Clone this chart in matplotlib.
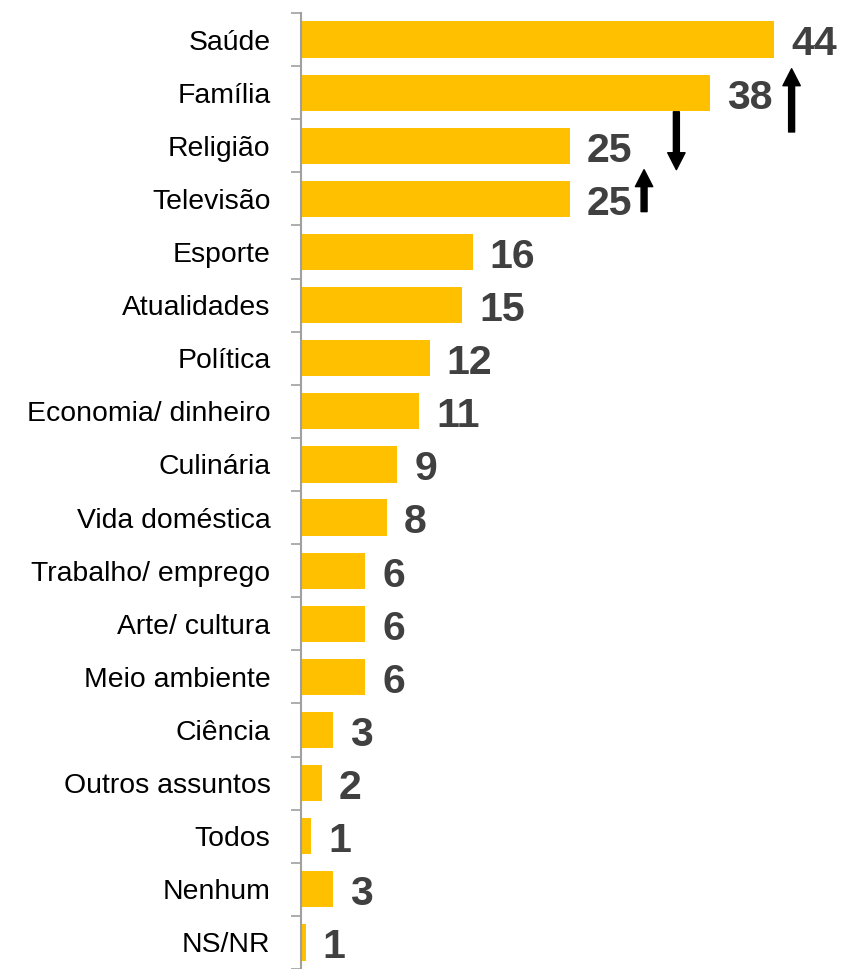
import numpy as np
import matplotlib.pyplot as plt
from matplotlib import font_manager

# Données
categorias = ['Saúde', 'Família', 'Religião', 'Televisão', 'Esporte', 'Atualidades',
              'Política', 'Economia/ dinheiro', 'Culinária', 'Vida doméstica',
              'Trabalho/ emprego', 'Arte/ cultura', 'Meio ambiente', 'Ciência',
              'Outros assuntos', 'Todos', 'Nenhum', 'NS/NR']
valores = [44, 38, 25, 25, 16, 15, 12, 11, 9, 8, 6, 6, 6, 3, 2, 1, 3, 0.5]
rotulos = ['44', '38', '25', '25', '16', '15', '12', '11', '9', '8', '6', '6', '6',
           '3', '2', '1', '3', '1']

# Setas (cauda -> ponta), em coordenadas dos dados
setas = [((45.6, 1.74), (45.6, 0.55)),
         ((34.9, 1.36), (34.9, 2.45)),
         ((31.9, 3.24), (31.9, 2.45))]

nomes = {f.name for f in font_manager.fontManager.ttflist}
if 'Liberation Sans Narrow' in nomes:
    fonte_cat, tam_cat = 'Liberation Sans Narrow', 24.5
else:
    fonte_cat, tam_cat = 'Liberation Sans', 20.4

fig = plt.figure(figsize=(8.43, 9.69), dpi=100)
ax = fig.add_axes([300.5 / 843, 0, 1 - 300.5 / 843, 956 / 969])

y = np.arange(len(categorias))
ax.barh(y, valores, height=0.68, color='#FFC000')

for yi, v, r in zip(y, valores, rotulos):
    ax.annotate(r, (v, yi), xytext=(12.2, -3.5), textcoords='offset points',
                va='center', ha='left', fontsize=29.5, fontweight='bold',
                color='#404040', family='Liberation Sans')

for cauda, ponta in setas:
    ax.annotate('', xy=ponta, xytext=cauda,
                arrowprops=dict(width=4.3, headwidth=12.5, headlength=12.2,
                                color='black', shrink=0))

ax.set_xlim(0, (843 - 300.5) / 10.77)
ax.set_ylim(len(categorias) - 0.53, -0.5)

ax.set_yticks(y)
ax.set_yticklabels(categorias, fontsize=tam_cat, family=fonte_cat)
ax.tick_params(axis='y', which='major', length=0, pad=21.6)
ax.set_yticks(np.arange(-0.5, len(categorias), 1), minor=True)
ax.tick_params(axis='y', which='minor', length=7.2, width=1.2, color='#A0A0A0')
ax.set_xticks([])

for lado in ['top', 'right', 'bottom']:
    ax.spines[lado].set_visible(False)
ax.spines['left'].set_color('#A0A0A0')
ax.spines['left'].set_linewidth(1.5)

plt.savefig('out.png', dpi=100)
